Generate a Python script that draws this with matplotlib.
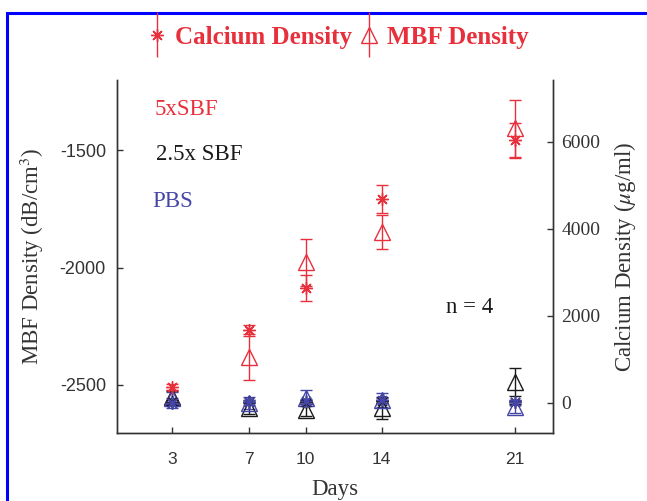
import matplotlib
matplotlib.use("Agg")
import matplotlib.pyplot as plt
from matplotlib.patches import Rectangle
from matplotlib.legend_handler import HandlerErrorbar
from matplotlib.container import ErrorbarContainer

plt.rcParams['axes.unicode_minus'] = False
plt.rcParams['mathtext.fontset'] = 'stix'

days = [3, 7, 10, 14, 21]

# MBF density (left axis, dB/cm3) - triangles
mbf_5x = [-2551, -2381, -1977, -1849, -1406]
mbf_5x_err = [30, 98, 100, 72, 123]
mbf_25x = [-2551, -2598, -2606, -2598, -2487]
mbf_25x_err = [25, 25, 25, 47, 60]
mbf_pbs = [-2555, -2577, -2555, -2564, -2594]
mbf_pbs_err = [25, 25, 35, 30, 25]

# Calcium density (right axis, ug/ml) - stars
ca_5x = [366, 1669, 2651, 4686, 6034]
ca_5x_err = [60, 120, 300, 320, 410]
ca_25x = [30, 30, 20, 40, 20]
ca_25x_err = [40, 40, 40, 40, 40]
ca_pbs = [0, 20, 40, 60, 20]
ca_pbs_err = [120, 60, 60, 60, 60]

red = '#e8303c'
black = '#1a1a1a'
blue = '#4545a8'
serif = 'Liberation Serif'

fig = plt.figure(figsize=(6.47, 5.01), dpi=100)
ax = fig.add_axes([0.181, 0.1357, 0.674, 0.7043])
ax2 = ax.twinx()

tri = dict(fmt='', marker='^', linestyle='none', ms=11, mfc='none', mew=1.0,
           elinewidth=1.0, capsize=4, capthick=1.0)
star = dict(fmt='', marker=(8, 2, 0), linestyle='none', ms=9, mew=1.0,
            elinewidth=1.0, capsize=4, capthick=1.0)

handles = []
for mbf, mbf_err, ca, ca_err, c in [(mbf_5x, mbf_5x_err, ca_5x, ca_5x_err, red),
                                    (mbf_25x, mbf_25x_err, ca_25x, ca_25x_err, black),
                                    (mbf_pbs, mbf_pbs_err, ca_pbs, ca_pbs_err, blue)]:
    e1 = ax.errorbar(days, mbf, yerr=mbf_err, color=c, mec=c, **tri)
    e2 = ax2.errorbar(days, ca, yerr=ca_err, color=c, mec=c, **star)
    handles.append((e2, e1))

# legend proxies without caps (vertical bar through the marker)
h_ca = ErrorbarContainer((handles[0][0][0], (), handles[0][0][2]), has_yerr=True)
h_mbf = ErrorbarContainer((handles[0][1][0], (), handles[0][1][2]), has_yerr=True)

ax.set_xlim(0.1, 23)
ax.set_ylim(-2705, -1200)
ax2.set_ylim(-690, 7420)
ax.set_xticks(days)
ax.set_yticks([-2500, -2000, -1500])
ax2.set_yticks([0, 2000, 4000, 6000])

for a in (ax, ax2):
    a.spines['top'].set_visible(False)
    for s in a.spines.values():
        s.set_linewidth(1.0)
        s.set_color('#333333')
    a.tick_params(direction='in', length=4, width=1, colors='#333333')

ax.tick_params(axis='both', labelsize=12.5, labelcolor='#333333')
ax.tick_params(axis='x', pad=14)
ax.tick_params(axis='y', pad=8, labelsize=13)
for lab in ax.get_xticklabels() + ax.get_yticklabels():
    lab.set_fontfamily('Liberation Sans')
for lab in ax2.get_yticklabels():
    lab.set_fontfamily(serif)
    lab.set_fontsize(14)
    lab.set_color('#333333')
ax2.tick_params(axis='y', pad=6)

ax.set_xlabel('Days', family=serif, fontsize=16.5, color='#333333', labelpad=8)
ax.set_ylabel('MBF Density (dB/cm$^3$)', family=serif, fontsize=16.5,
              color='#333333', labelpad=10)
ax2.set_ylabel('Calcium Density ($\\mu$g/ml)', family=serif, fontsize=16.5,
               color='#333333', labelpad=8)

ax.text(0.085, 0.916, '5xSBF', transform=ax.transAxes, color=red,
        family=serif, fontsize=16.5, va='center')
ax.text(0.09, 0.79, '2.5x SBF', transform=ax.transAxes, color=black,
        family=serif, fontsize=16.5, va='center')
ax.text(0.08, 0.655, 'PBS', transform=ax.transAxes, color=blue,
        family=serif, fontsize=16.5, va='center')
ax.text(0.755, 0.355, 'n = 4', transform=ax.transAxes, color=black,
        family=serif, fontsize=16.5, va='center')

leg = fig.legend([h_ca, h_mbf], ['Calcium Density', 'MBF Density'],
                 loc='center', bbox_to_anchor=(0.524, 0.926), ncol=2, frameon=False,
                 prop={'family': serif, 'weight': 'bold', 'size': 18},
                 labelcolor=red, handlelength=0.6, handletextpad=0.4,
                 columnspacing=0.4,
                 handler_map={ErrorbarContainer: HandlerErrorbar(yerr_size=0.9)})

# blue frame around the figure panel
fig.patches.append(Rectangle((7 / 647, -0.1), 1.2, 1 - 13 / 501 + 0.1,
                             transform=fig.transFigure, fill=False,
                             edgecolor='#0000ff', linewidth=2.2))

fig.savefig('out.png', dpi=100)
